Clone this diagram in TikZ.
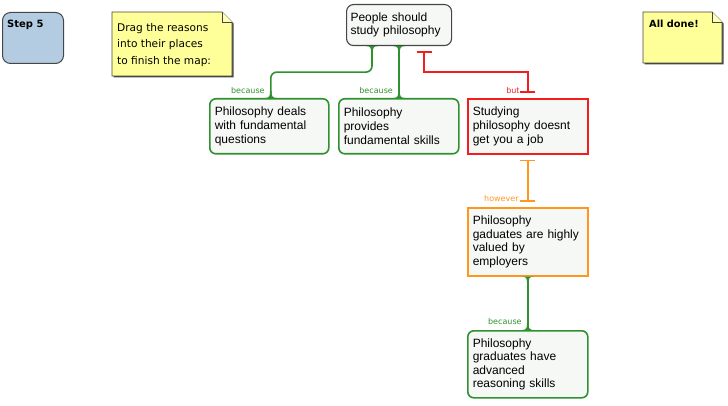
\documentclass[tikz,border=0pt]{standalone}
\usepackage{fontspec}
\setmainfont{Liberation Sans}
\newfontfamily\djv{DejaVu Sans}
\usetikzlibrary{calc,arrows.meta}
\definecolor{cgreen}{RGB}{48,145,48}
\definecolor{cred}{RGB}{240,30,30}
\definecolor{corange}{RGB}{255,150,30}
\definecolor{boxfill}{RGB}{246,248,245}
\definecolor{stepfill}{RGB}{180,204,226}
\definecolor{notefill}{RGB}{255,255,153}
\definecolor{edgegray}{RGB}{70,70,70}
\begin{document}
\begin{tikzpicture}[x=1pt,y=-1pt,
  txt/.style={font=\fontsize{12}{13.6}\selectfont, align=left, anchor=north west, inner xsep=5pt, inner ysep=0pt},
  gbox/.style={txt, draw=cgreen, line width=1.6pt, fill=boxfill, rounded corners=6pt},
  rbox/.style={txt, draw=cred, line width=1.6pt, fill=boxfill},
  obox/.style={txt, draw=corange, line width=1.6pt, fill=boxfill},
  topbox/.style={txt, draw=edgegray, line width=1.1pt, fill=boxfill, rounded corners=7pt, inner xsep=4pt},
  gline/.style={draw=cgreen, line width=1.6pt},
  rline/.style={draw=cred, line width=1.6pt, {Bar[width=15pt]}-{Bar[width=15pt]}},
  oline/.style={draw=corange, line width=1.6pt, {Bar[width=15pt]}-{Bar[width=15pt]}},
  lbl/.style={font=\djv\fontsize{8}{9}\selectfont, inner sep=0pt, anchor=east},
  flaredown/.pic={\fill (-6,0) .. controls (-1.2,0) and (-0.8,2) .. (-0.8,7) -- (0.8,7) .. controls (0.8,2) and (1.2,0) .. (6,0) -- cycle;},
  flareup/.pic={\fill (-6,0) .. controls (-1.2,0) and (-0.8,-2) .. (-0.8,-7) -- (0.8,-7) .. controls (0.8,-2) and (1.2,0) .. (6,0) -- cycle;}
]
\useasboundingbox (0,0) rectangle (728,406);

% Step box
\node[draw=edgegray, line width=1pt, fill=stepfill, rounded corners=8pt, minimum width=61pt, minimum height=51pt, anchor=north west, inner sep=0pt] (step) at (2,12) {};
\node[font=\djv\bfseries\fontsize{10}{11}\selectfont, anchor=north west, inner sep=0pt] (steptxt) at (7,19.5) {Step 5};

% Drag note
\fill[edgegray] (113.5,13.5) -- (223.5,13.5) -- (233.5,23.5) -- (233.5,77.5) -- (113.5,77.5) -- cycle;
\draw[edgegray, line width=0.8pt, fill=notefill] (112,12) -- (222,12) -- (232,22) -- (232,76) -- (112,76) -- cycle;
\draw[edgegray, line width=0.8pt, fill=notefill!70!white] (222,12) -- (222,22) -- (232,22);
\node[font=\djv\fontsize{10.6}{16.5}\selectfont, align=left, anchor=north west, inner sep=0pt] (dragtxt) at (117,23) {Drag the reasons\\into their places\\to finish the map:};

% All done note
\fill[edgegray] (644.5,13.5) -- (713.5,13.5) -- (723.5,23.5) -- (723.5,64.5) -- (644.5,64.5) -- cycle;
\draw[edgegray, line width=0.8pt, fill=notefill] (643,12) -- (712,12) -- (722,22) -- (722,63) -- (643,63) -- cycle;
\draw[edgegray, line width=0.8pt, fill=notefill!70!white] (712,12) -- (712,22) -- (722,22);
\node[font=\djv\bfseries\fontsize{9.8}{11}\selectfont, anchor=north west, inner sep=0pt] (donetxt) at (649,20) {All done!};

% Main nodes
\node[topbox, minimum width=105pt, minimum height=41pt, text width=97pt] (top) at (346,4) {People should\\study philosophy};
\node[gbox, minimum width=119pt, minimum height=55pt, text width=109pt] (b1) at (209,98) {Philosophy deals\\with fundamental\\questions};
\node[gbox, minimum width=120pt, minimum height=55pt, text width=110pt] (b2) at (338,98) {Philosophy\\provides\\fundamental skills};
\node[rbox, minimum width=120pt, minimum height=55pt, text width=110pt] (b3) at (467,98) {Studying\\philosophy doesnt\\get you a job};
\node[obox, minimum width=120pt, minimum height=68pt, text width=110pt] (b4) at (467,207) {Philosophy\\gaduates are highly\\valued by\\employers};
\node[gbox, minimum width=120pt, minimum height=67pt, text width=110pt] (b5) at (467,330) {Philosophy\\graduates have\\advanced\\reasoning skills};

% Connector 1 (because, left)
\coordinate (c1) at ($(top.south west)+(26,0)$);
\coordinate (c1e) at ($(b1.north)+(1.5,0)$);
\draw[gline, rounded corners=6pt] (c1) -- ++(0,26) -| (c1e);
\fill[cgreen] (c1) pic {flaredown};
\fill[cgreen] (c1e) pic {flareup};
\node[lbl, text=cgreen] (l1) at ($(c1e)+(-6,-7)$) {because};

% Connector 2 (because, middle)
\coordinate (c2) at (top.south);
\coordinate (c2e) at (top.south |- b2.north);
\draw[gline] (c2) -- (c2e);
\fill[cgreen] (c2) pic {flaredown};
\fill[cgreen] (c2e) pic {flareup};
\node[lbl, text=cgreen] (l2) at ($(c2e)+(-6,-7)$) {because};

% Connector 3 (but)
\coordinate (r1) at ($(top.south west)+(78,5)$);
\coordinate (r2) at ($(b3.north)+(0,-5)$);
\draw[rline] (r1) -- ++(0,21) -| (r2);
\node[lbl, text=cred] (l3) at ($(r2)+(-8,-2)$) {but};

% Connector 4 (however)
\coordinate (o1) at ($(b3.south)+(0,5)$);
\coordinate (o2) at ($(b4.north)+(0,-5)$);
\draw[oline] (o1) -- (o2);
\node[lbl, text=corange] (l4) at ($(o2)+(-9,-3)$) {however};

% Connector 5 (because, bottom)
\coordinate (g1) at (b4.south);
\coordinate (g2) at (b5.north);
\draw[gline] (g1) -- (g2);
\fill[cgreen] (g1) pic {flaredown};
\fill[cgreen] (g2) pic {flareup};
\node[lbl, text=cgreen] (l5) at ($(g2)+(-6,-8)$) {because};
\end{tikzpicture}
\end{document}
